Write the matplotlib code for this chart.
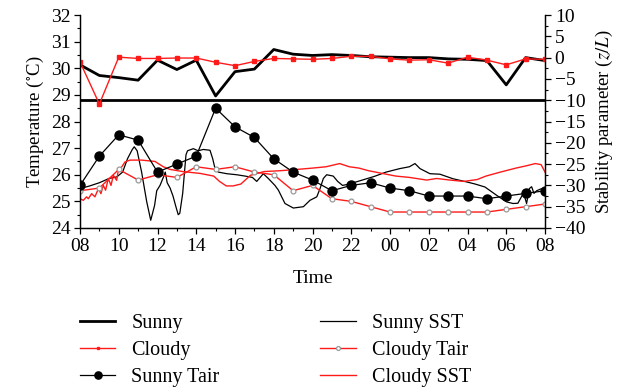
import numpy as np
import matplotlib
matplotlib.use("Agg")
import matplotlib.pyplot as plt

# hourly time axis, hours since 08:00 of the first day
hours = list(range(25))
tick_hours = [0, 2, 4, 6, 8, 10, 12, 14, 16, 18, 20, 22, 24]
tick_labels = ['08', '10', '12', '14', '16', '18', '20', '22', '00', '02', '04', '06', '08']

# stability parameter z/L (right axis)
zl_sunny = [-1.7, -4.2, -4.7, -5.3, -0.6, -2.8, -0.6, -9.0, -3.3, -2.7, 1.9, 0.8, 0.5,
            0.7, 0.5, 0.2, 0.1, 0.0, 0.0, -0.3, -0.4, -0.7, -6.4, 0.0, -0.7]
zl_cloudy = [-1.0, -10.9, 0.1, -0.2, -0.2, -0.1, -0.1, -1.1, -1.9, -0.9, -0.2, -0.3, -0.4,
             -0.2, 0.3, 0.3, -0.3, -0.6, -0.5, -1.3, 0.1, -0.6, -1.7, -0.3, -0.4]
zl_ref = -10

# air temperature, hourly (left axis)
tair_sunny = [25.6, 26.7, 27.5, 27.3, 26.1, 26.4, 26.7, 28.5, 27.8, 27.4, 26.6, 26.1, 25.8,
              25.4, 25.6, 25.7, 25.5, 25.4, 25.2, 25.2, 25.2, 25.1, 25.2, 25.3, 25.4]
tair_cloudy = [25.4, 25.5, 26.2, 25.8, 26.0, 25.9, 26.3, 26.2, 26.3, 26.1, 26.0, 25.4, 25.6,
               25.1, 25.0, 24.8, 24.6, 24.6, 24.6, 24.6, 24.6, 24.6, 24.7, 24.8, 24.9]

# sea surface temperature, dense records
sst_sunny_t = [0.0, 0.5, 1.0, 1.5, 1.9, 2.2, 2.45, 2.7, 2.8, 2.95, 3.18, 3.44, 3.65, 3.85,
               3.96, 4.13, 4.3, 4.4, 4.5, 4.65, 4.8, 4.95, 5.07, 5.15, 5.3, 5.47, 5.55,
               5.85, 6.1, 6.36, 6.71, 6.85, 6.97, 7.14, 7.57, 8.09, 8.52, 8.9, 9.12, 9.3,
               9.46, 9.72, 10.06, 10.24, 10.58, 11.01, 11.53, 11.87, 12.22, 12.39, 12.56,
               12.73, 13.07, 13.3, 13.55, 13.9, 14.25, 15.2, 15.8, 16.5, 17.0, 17.29, 17.55,
               18.06, 18.58, 19.25, 19.96, 20.4, 20.9, 21.5, 22.02, 22.35, 22.6, 22.88,
               22.98, 23.05, 23.19, 23.31, 23.43, 23.57, 23.83, 24.0]
sst_sunny = [25.48, 25.58, 25.7, 25.86, 25.92, 26.1, 26.6, 26.95, 27.05, 26.9, 26.1, 25.0,
             24.29, 24.85, 25.4, 25.6, 25.9, 26.1, 25.7, 25.5, 25.2, 24.8, 24.5, 24.55, 25.3,
             26.75, 26.9, 26.98, 26.9, 26.95, 26.92, 26.6, 26.23, 26.1, 26.04, 26.0, 25.95,
             25.9, 25.75, 25.9, 26.04, 25.86, 25.6, 25.42, 24.92, 24.75, 24.8, 25.04, 25.17,
             25.48, 25.86, 26.0, 25.95, 25.75, 25.6, 25.65, 25.73, 25.94, 26.1, 26.23, 26.3,
             26.42, 26.23, 26.04, 26.02, 25.85, 25.73, 25.65, 25.54, 25.23, 24.98, 24.92,
             24.93, 25.3, 25.1, 24.92, 25.48, 25.55, 25.3, 25.4, 25.48, 25.45]
sst_cloudy_t = [0.0, 0.17, 0.34, 0.43, 0.6, 0.77, 0.95, 1.08, 1.2, 1.32, 1.46, 1.6, 1.72,
                1.89, 1.98, 2.15, 2.32, 2.58, 3.18, 3.87, 4.3, 4.65, 5.3, 6.2, 6.9, 7.2,
                7.55, 7.9, 8.3, 8.8, 9.5, 10.3, 11.2, 12.0, 12.7, 13.4, 13.9, 14.4, 14.9,
                15.6, 16.3, 17.0, 17.9, 18.4, 19.1, 19.8, 20.5, 20.95, 21.7, 22.5, 23.0,
                23.5, 23.8, 24.0]
sst_cloudy = [25.1, 25.04, 25.17, 25.1, 25.29, 25.17, 25.48, 25.29, 25.6, 25.42, 25.86,
              25.6, 25.98, 25.79, 26.17, 26.29, 26.48, 26.55, 26.55, 26.5, 26.3, 26.2,
              26.12, 26.05, 25.95, 25.75, 25.58, 25.58, 25.65, 25.98, 26.12, 26.15, 26.2,
              26.25, 26.3, 26.42, 26.3, 26.25, 26.15, 26.05, 25.95, 25.9, 25.8, 25.86, 25.8,
              25.75, 25.82, 25.95, 26.1, 26.25, 26.33, 26.42, 26.38, 26.1]

plt.rcParams['font.family'] = ['Liberation Serif', 'DejaVu Serif']
plt.rcParams['mathtext.fontset'] = 'stix'
plt.rcParams['axes.linewidth'] = 0.9

red = '#ff1a1a'

fig = plt.figure(figsize=(6.21, 3.89), dpi=100)
ax = fig.add_axes([80 / 621, 1 - 228 / 389, 465 / 621, 213 / 389])
ax2 = ax.twinx()

# left axis: temperatures
ln_sst_s, = ax.plot(sst_sunny_t, sst_sunny, color='black', lw=0.9, label='Sunny SST')
ln_sst_c, = ax.plot(sst_cloudy_t, sst_cloudy, color=red, lw=1.0, label='Cloudy SST')
ln_ta_c, = ax.plot(hours, tair_cloudy, color=red, lw=1.0, marker='o', ms=3.5,
                   mfc='white', mec='#999999', mew=0.9, label='Cloudy Tair')
ln_ta_s, = ax.plot(hours, tair_sunny, color='black', lw=0.9, marker='o', ms=6.5,
                   label='Sunny Tair')

# right axis: stability parameter
ax2.axhline(zl_ref, color='black', lw=2.0)
ln_s, = ax2.plot(hours, zl_sunny, color='black', lw=2.0, label='Sunny')
ln_c, = ax2.plot(hours, zl_cloudy, color=red, lw=1.0, marker='s', ms=2.2,
                 label='Cloudy')

ax.set_xlim(0, 24)
ax.set_ylim(24, 32)
ax2.set_ylim(-40, 10)
ax.set_xticks(tick_hours)
ax.set_xticklabels(tick_labels)
ax.set_xticks(hours, minor=True)
ax.set_yticks(np.arange(24, 33, 1))
ax.set_yticks(np.arange(24, 32.01, 0.5), minor=True)
ax2.set_yticks(np.arange(-40, 11, 5))
ax2.set_yticks(np.arange(-40, 10.01, 2.5), minor=True)

for a in (ax, ax2):
    a.spines['top'].set_visible(False)
    a.tick_params(which='major', length=4, width=0.9, direction='out', labelsize=14,
                  pad=3)
    a.tick_params(which='minor', length=2.5, width=0.8, direction='out')

ax.set_xlabel('Time', fontsize=14, labelpad=11)
ax.set_ylabel('Temperature ($^{\\circ}$C)', fontsize=13.5, labelpad=3)
ax2.set_ylabel('Stability parameter ($z/L$)', fontsize=13.5, labelpad=6)

handles = [ln_s, ln_c, ln_ta_s, ln_sst_s, ln_ta_c, ln_sst_c]
fig.legend(handles, [h.get_label() for h in handles], ncol=2, loc='upper left',
           bbox_to_anchor=(80 / 621, 1 - 314 / 389), frameon=False, fontsize=14.5,
           handlelength=1.75, handletextpad=0.8, columnspacing=5.0, labelspacing=0.38,
           borderpad=0, borderaxespad=0, markerscale=0.8)

fig.savefig('out.png', dpi=100)
